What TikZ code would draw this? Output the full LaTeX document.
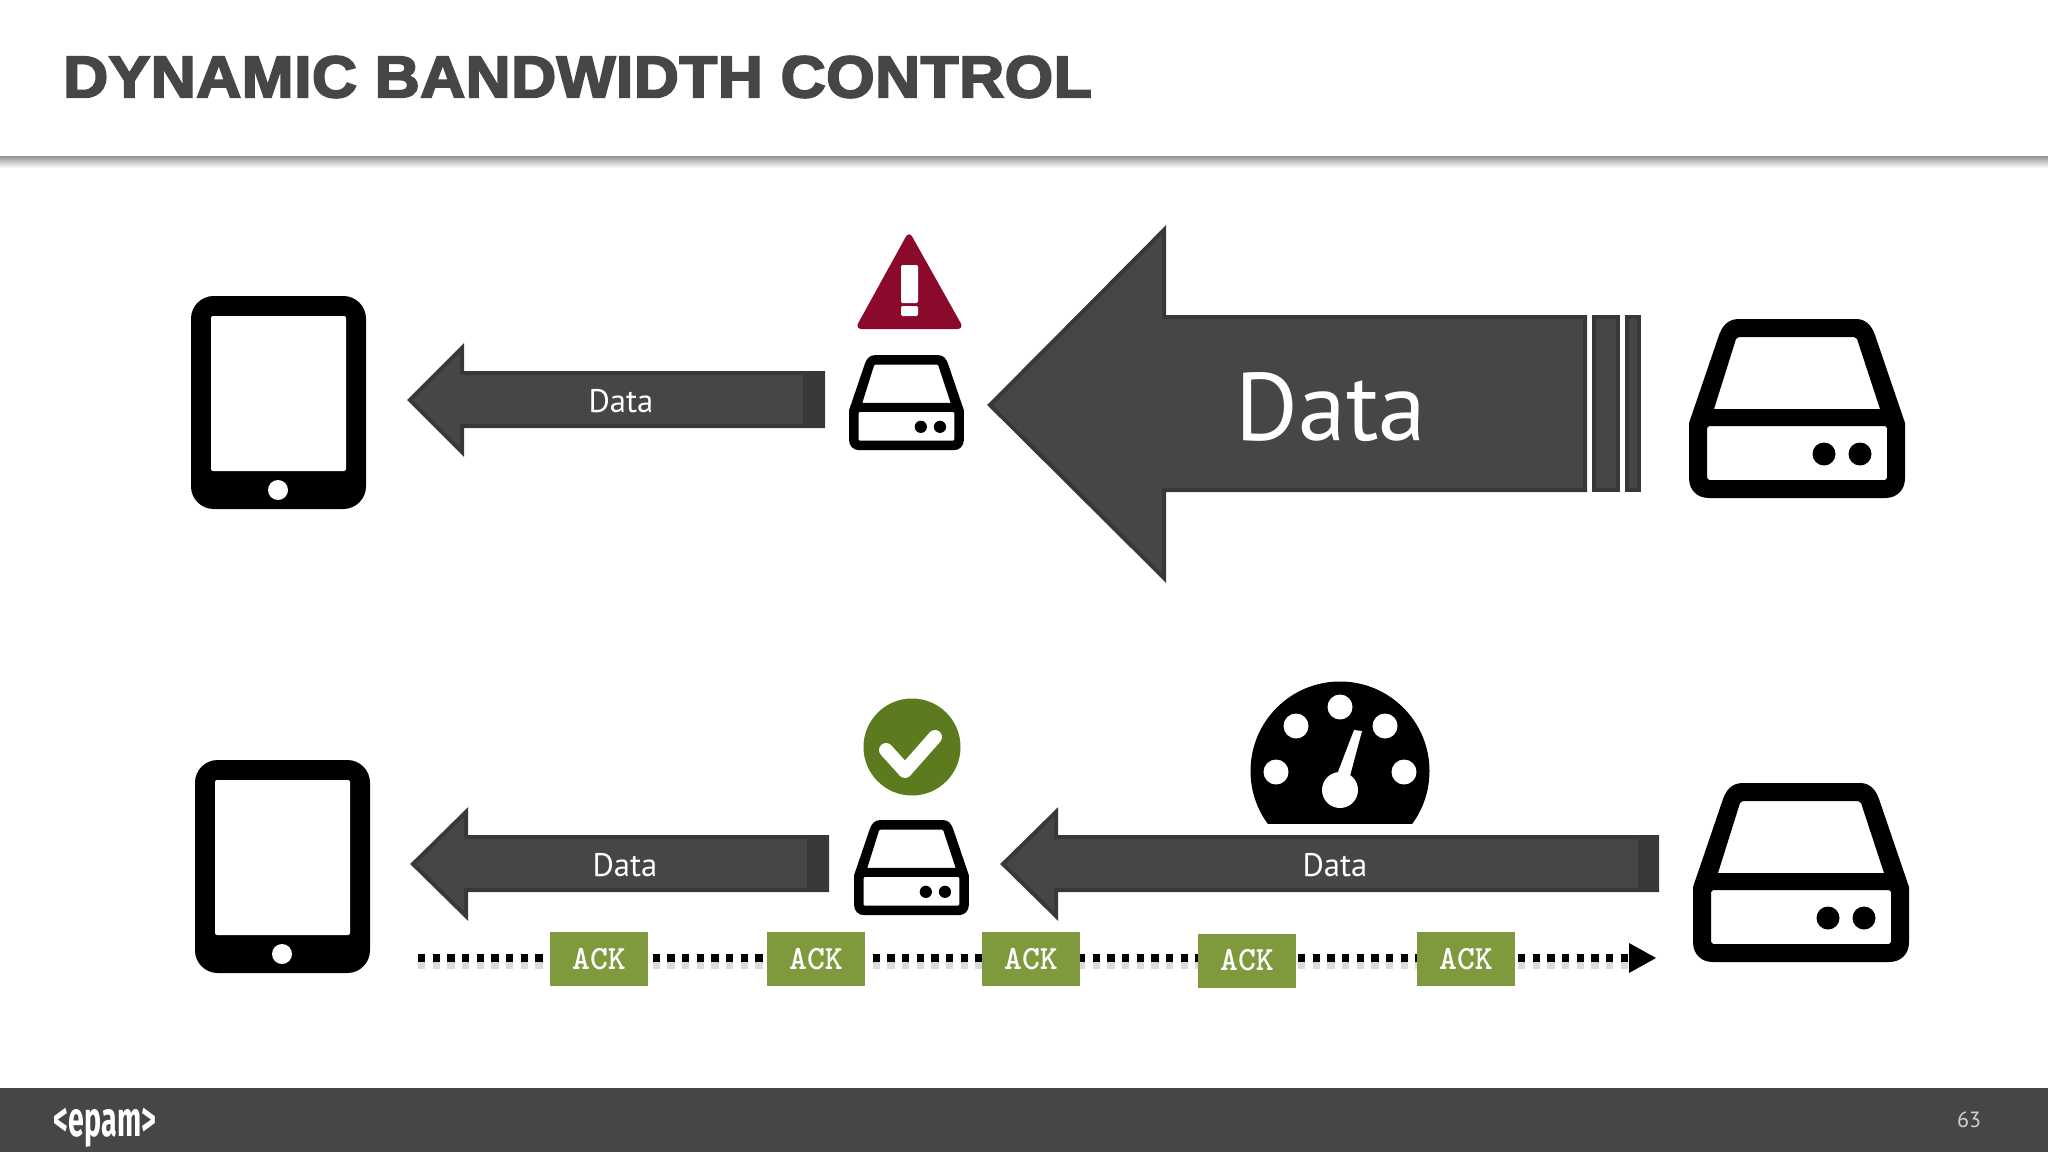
\documentclass[tikz,border=0pt]{standalone}
\usepackage{fontspec}
\setmainfont{PT Sans}
\newfontfamily\titlefont{Liberation Sans Bold}[FakeBold=3.5,FakeStretch=1.06,LetterSpace=1]
\newfontfamily\logofont{Fira Sans}
\definecolor{slate}{HTML}{464547}
\definecolor{slateedge}{HTML}{38383A}
\definecolor{alert}{HTML}{8B0A2C}
\definecolor{okgreen}{HTML}{5C7A1E}
\definecolor{ackgreen}{HTML}{7F9A3C}
\tikzset{
  barrow/.style={fill=slate,draw=slateedge,line width=3pt,miter limit=10},
  stripe/.style={fill=slateedge,draw=none},
  datalabel/.style={text=white,inner sep=0pt,font=\fontsize{24.5}{26}\selectfont},
  ackbox/.style={fill=ackgreen,minimum width=73.5pt,minimum height=40.5pt,inner sep=0pt,text=white,font=\ttfamily\bfseries\fontsize{25.5}{27}\selectfont\addfontfeature{FakeBold=1.5}},
  server/.pic={
    \fill[black,even odd rule]
      (50,0) -- (167,0) .. controls (178,0) and (183,8) .. (186,16) -- (216,104) -- (216,159)
      .. controls (216,171) and (208,179) .. (196,179) -- (20,179)
      .. controls (8,179) and (0,171) .. (0,159) -- (0,104) -- (30,16)
      .. controls (33,8) and (38,0) .. (50,0) -- cycle
      (50,18) -- (165,18) -- (168,20) -- (191,90) -- (25,90) -- (47,20) -- cycle
      (20,107) -- (196,107) -- (198,109) -- (198,159) -- (196,161) -- (20,161) -- (18,159) -- (18,109) -- cycle
      (135,135) circle[radius=11.5]
      (171,135) circle[radius=11.5];
  },
  tablet/.pic={
    \fill[black,even odd rule,rounded corners=17pt] (0,0) rectangle (175,213);
    \fill[white,rounded corners=1.5pt] (20,20) rectangle (155,175);
    \fill[white] (87,194) circle[radius=10];
  }
}
\begin{document}
\begin{tikzpicture}[x=0.75pt,y=-0.75pt]
\useasboundingbox (0,0) rectangle (2048,1152);
\fill[white] (0,0) rectangle (2048,1152);

% header
\shade[top color=black!38,bottom color=white] (0,157) rectangle (2048,168);
\node[anchor=west,inner sep=0pt,text=slate,font=\titlefont\fontsize{44}{46}\selectfont] (title) at (63,77) {DYNAMIC BANDWIDTH CONTROL};

% footer
\fill[slate] (0,1088) rectangle (2048,1152);
\node[anchor=center,inner sep=0pt,text=white,xscale=0.58,font=\logofont\bfseries\fontsize{37}{40}\selectfont] (logo) at (105,1128) {<epam>};
\node[anchor=center,inner sep=0pt,text=black!18,font=\fontsize{16.5}{18}\selectfont] (pageno) at (1969,1120) {63};

% devices
\pic at (191,296) {tablet};
\pic at (195,760) {tablet};
\pic at (1689,319) {server};
\pic at (1693,783) {server};
\pic[scale=0.532] at (849,355) {server};
\pic[scale=0.532] at (854,820) {server};

% top row arrows
\draw[barrow] (410,400) -- (462,348) -- (462,373) -- (823,373) -- (823,426) -- (462,426) -- (462,452) -- cycle;
\fill[stripe] (803,371) rectangle (825,428);
\node[datalabel] (d1) at (621,401) {Data};

\draw[barrow] (990,405) -- (1164,230) -- (1164,317) -- (1585,317) -- (1585,490) -- (1164,490) -- (1164,578) -- cycle;
\draw[barrow] (1594,317) rectangle (1618,490);
\draw[barrow] (1627,317) rectangle (1639,490);
\node[datalabel,font=\fontsize{72}{76}\selectfont] (d2) at (1331,407) {Data};

% bottom row arrows
\draw[barrow] (413,864) -- (466,812) -- (466,837) -- (827,837) -- (827,890) -- (466,890) -- (466,916) -- cycle;
\fill[stripe] (807,835) rectangle (829,892);
\node[datalabel] (d3) at (625,865) {Data};

\draw[barrow] (1003,864) -- (1056,812) -- (1056,837) -- (1657,837) -- (1657,890) -- (1056,890) -- (1056,916) -- cycle;
\fill[stripe] (1638,835) rectangle (1659,892);
\node[datalabel] (d4) at (1335,865) {Data};

% alert icon
\fill[alert,rounded corners=5pt] (909,231) -- (964,329) -- (855,329) -- cycle;
\fill[white,rounded corners=1pt] (901,265) rectangle (918,303);
\fill[white,rounded corners=1pt] (901,306) rectangle (918,316);

% check icon
\fill[okgreen] (912,747) circle[radius=48.5];
\draw[white,line width=10.5pt,line join=round,line cap=round] (886,750) -- (905,771) -- (935,737);

% gauge icon
\begin{scope}
  \clip (1240,670) rectangle (1440,823);
  \fill[black] (1340,771) circle[radius=89.5];
\end{scope}
\foreach \gx/\gy in {1296/726,1340/707,1385/726,1276/772,1404/772}
  \fill[white] (\gx,\gy) circle[radius=12.5];
\fill[white] (1340,790) circle[radius=18];
\fill[white] (1333,785) -- (1354,730) -- (1362,731) -- (1347,787) -- cycle;

% ack line
\coordinate (ackstart) at (418,958);
\coordinate (ackend) at (1629,958);
\coordinate (acktip) at (1656,958);
\draw[black!14,line width=6pt,dash pattern=on 5.5pt off 5.5pt] ([yshift=-5pt]ackstart) -- ([yshift=-5pt]ackend);
\draw[black,line width=6.5pt,dash pattern=on 5.5pt off 5.5pt] (ackstart) -- (ackend);
\fill[black] ([yshift=11.25pt]ackend) -- (acktip) -- ([yshift=-11.25pt]ackend) -- cycle;
\node[ackbox] (a1) at (599,959) {ACK};
\node[ackbox] (a2) at (816,959) {ACK};
\node[ackbox] (a3) at (1031,959) {ACK};
\node[ackbox] (a4) at (1247,960.5) {ACK};
\node[ackbox] (a5) at (1466,959) {ACK};
\end{tikzpicture}
\end{document}
